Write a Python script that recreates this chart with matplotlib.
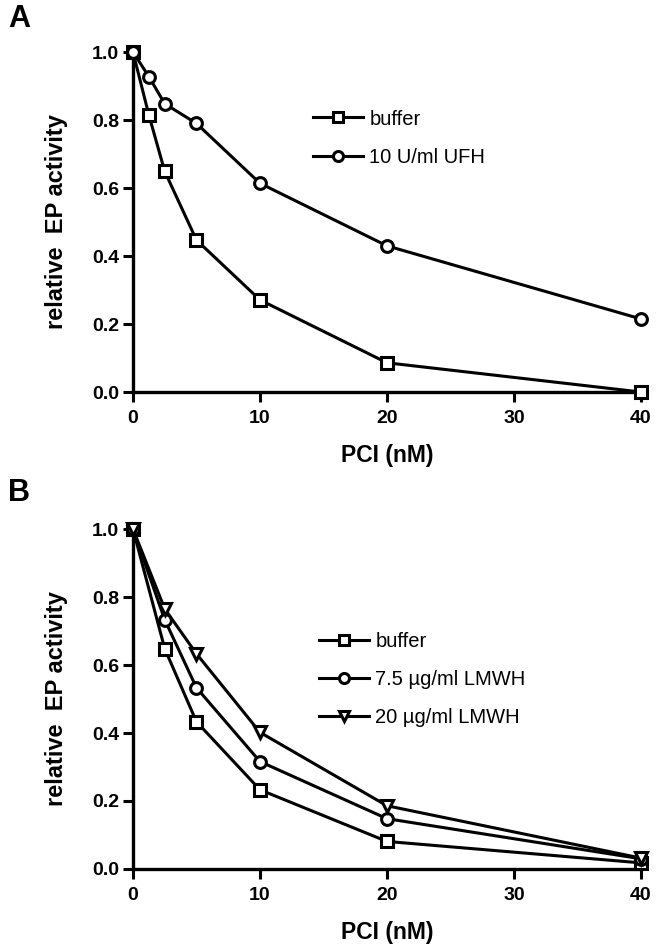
#!/usr/bin/env python3

import matplotlib
matplotlib.use("Agg")
import matplotlib.pyplot as plt

plt.rcParams['font.family'] = ['Liberation Sans', 'DejaVu Sans']

# panel A
pci_a = [0, 1.25, 2.5, 5, 10, 20, 40]
buffer_a = [1.0, 0.815, 0.649, 0.447, 0.271, 0.086, 0.0]
ufh_a = [1.0, 0.928, 0.848, 0.790, 0.614, 0.430, 0.215]

# panel B
pci_b = [0, 2.5, 5, 10, 20, 40]
buffer_b = [1.0, 0.648, 0.433, 0.233, 0.081, 0.018]
lmwh75_b = [1.0, 0.733, 0.533, 0.316, 0.148, 0.030]
lmwh20_b = [1.0, 0.765, 0.633, 0.402, 0.186, 0.032]

x_ticks = [0, 10, 20, 30, 40]
y_ticks = [0.0, 0.2, 0.4, 0.6, 0.8, 1.0]


def format_axes(ax):
    ax.set_xlim(0, 40)
    ax.set_ylim(0, 1.0)
    ax.set_xticks(x_ticks)
    ax.set_yticks(y_ticks)
    ax.set_yticklabels([f"{t:.1f}" for t in y_ticks])
    for side in ['top', 'right']:
        ax.spines[side].set_visible(False)
    for side in ['left', 'bottom']:
        ax.spines[side].set_linewidth(2.4)
    ax.tick_params(direction='out', length=7, width=2.2, labelsize=14)
    ax.tick_params(axis='x', pad=6)
    ax.tick_params(axis='y', pad=3)
    for lab in ax.get_xticklabels() + ax.get_yticklabels():
        lab.set_fontweight('bold')
    ax.set_xlabel('PCI (nM)', fontsize=16.5, fontweight='bold', labelpad=12)
    ax.set_ylabel('relative  EP activity', fontsize=17, fontweight='bold', labelpad=17)


def plot_series(ax, x, y, marker, label, ms=8.5):
    ax.plot(x, y, color='black', lw=2.2, marker=marker, markersize=ms,
            markerfacecolor='white', markeredgecolor='black',
            markeredgewidth=2.2, label=label, clip_on=False, zorder=3)


def add_legend(ax, anchor):
    ax.legend(loc='center left', bbox_to_anchor=anchor, frameon=False,
              fontsize=14.5, handlelength=2.5, handletextpad=0.3,
              labelspacing=0.95, borderaxespad=0, borderpad=0, markerscale=0.85)


fig = plt.figure(figsize=(6.58, 9.52), dpi=100)
ax_a = fig.add_axes([0.2021, 0.5882, 0.772, 0.3571])
ax_b = fig.add_axes([0.2021, 0.0872, 0.772, 0.3571])

plot_series(ax_a, pci_a, buffer_a, 's', 'buffer')
plot_series(ax_a, pci_a, ufh_a, 'o', '10 U/ml UFH')
format_axes(ax_a)
add_legend(ax_a, (0.354, 0.747))

plot_series(ax_b, pci_b, buffer_b, 's', 'buffer')
plot_series(ax_b, pci_b, lmwh75_b, 'o', '7.5 µg/ml LMWH')
plot_series(ax_b, pci_b, lmwh20_b, 'v', '20 µg/ml LMWH', ms=9)
format_axes(ax_b)
add_legend(ax_b, (0.366, 0.557))

fig.text(0.012, 0.980, 'A', fontsize=22, fontweight='bold', va='center')
fig.text(0.012, 0.482, 'B', fontsize=22, fontweight='bold', va='center')

fig.savefig('out.png', dpi=100)
